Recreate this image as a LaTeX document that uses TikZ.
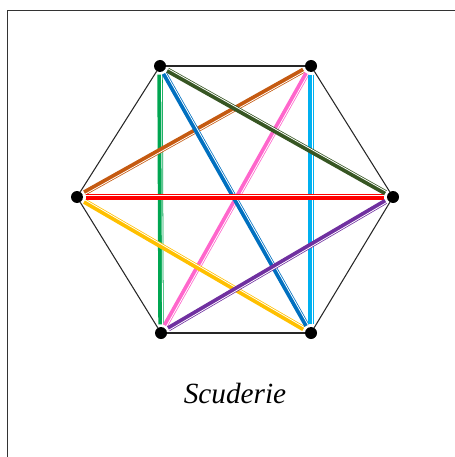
\documentclass[tikz,border=0pt]{standalone}
\usepackage{fontspec}
\setmainfont{Liberation Serif}
\usetikzlibrary{calc}

\definecolor{edgegreen}{RGB}{0,166,81}
\definecolor{edgeblue}{RGB}{0,112,192}
\definecolor{edgeforest}{RGB}{55,86,35}
\definecolor{edgebrown}{RGB}{197,90,17}
\definecolor{edgepink}{RGB}{255,102,204}
\definecolor{edgecyan}{RGB}{0,176,240}
\definecolor{edgered}{RGB}{255,0,0}
\definecolor{edgegold}{RGB}{255,192,0}
\definecolor{edgepurple}{RGB}{112,48,160}

\begin{document}
\begin{tikzpicture}[
    x=0.03cm, y=-0.03cm,
    vertex/.style={
        circle,
        fill=black,
        inner sep=0pt,
        minimum size=0.36cm
    },
    rim/.style={
        draw=black!85,
        line width=0.9pt
    },
    chord/.style={
        line width=4.6pt,
        shorten >=2pt,
        shorten <=2pt
    },
    stripe/.style={
        draw=white,
        line width=0.7pt,
        shorten >=5pt,
        shorten <=5pt
    }
]

\useasboundingbox (0,0) rectangle (454,457);
\draw[line width=0.6pt, black!80] (7,10) rectangle (460,465);

\node[vertex] (vtl) at (160,66) {};
\node[vertex] (vtr) at (311,66) {};
\node[vertex] (vl) at (77,197) {};
\node[vertex] (vr) at (393,197) {};
\node[vertex] (vbl) at (161,333) {};
\node[vertex] (vbr) at (311,333) {};

% outer ring
\draw[rim] (vtl) -- (vtr);
\draw[rim] (vtr) -- (vr);
\draw[rim] (vr) -- (vbr);
\draw[rim] (vbr) -- (vbl);
\draw[rim] (vbl) -- (vl);
\draw[rim] (vl) -- (vtl);

% coloured chords
\foreach \a/\b/\c in {vtl/vbl/edgegreen, vtr/vl/edgebrown, vtr/vbl/edgepink,
                      vl/vbr/edgegold, vtl/vbr/edgeblue, vtr/vbr/edgecyan,
                      vl/vr/edgered, vtl/vr/edgeforest, vr/vbl/edgepurple} {
    \draw[chord, draw=\c] (\a) -- (\b);
    \draw[stripe] ($(\a)!1.3pt!90:(\b)$) -- ($(\b)!1.3pt!-90:(\a)$);
}

\node[font=\fontsize{25}{30}\selectfont\itshape] (title) at (235,394) {Scuderie};

\end{tikzpicture}
\end{document}
